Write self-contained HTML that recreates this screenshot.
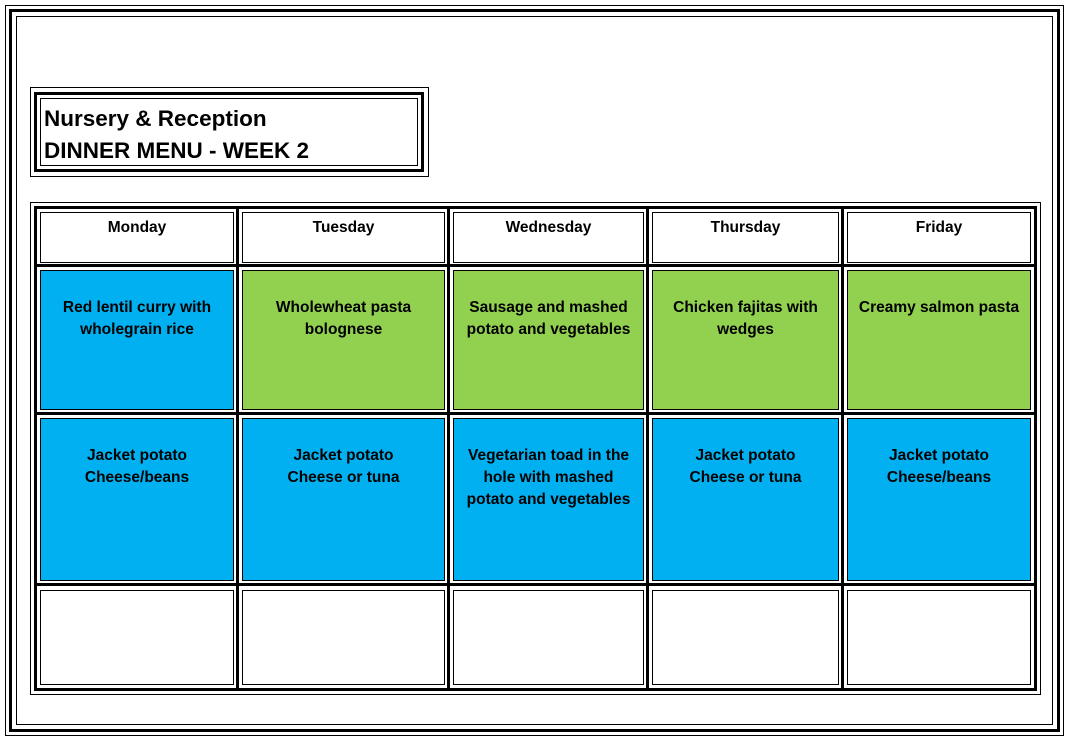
<!DOCTYPE html>
<html><head><style>
body{margin:0;width:1068px;height:741px;background:#fff;position:relative;overflow:hidden;font-family:"Liberation Sans",sans-serif}
.b{position:absolute;box-sizing:border-box}
.c{position:absolute;box-sizing:border-box;border:1px solid #000;text-align:center;font-weight:bold;font-size:15.5px;line-height:22px;color:#000}
.bl{background:#00b0f0}.gr{background:#92d050}.wh{background:#fff}
</style></head><body>
<div class="b" style="left:5px;top:5px;width:1059px;height:731px;border:1px solid #000"></div>
<div class="b" style="left:9px;top:9px;width:1051px;height:723px;border:3px solid #000"></div>
<div class="b" style="left:16px;top:16px;width:1037px;height:709px;border:1px solid #000"></div>

<div class="b" style="left:30px;top:87px;width:399px;height:90px;border:1px solid #000"></div>
<div class="b" style="left:34px;top:92px;width:390px;height:80px;border:3px solid #000"></div>
<div class="b" style="left:40px;top:98px;width:378px;height:68px;border:1px solid #000;padding:4px 0 0 3px;font-weight:bold;font-size:22.5px;line-height:32px">Nursery &amp; Reception<br>DINNER MENU - WEEK 2</div>

<div class="b" style="left:30px;top:202px;width:1011px;height:493px;border:1px solid #000"></div>
<div class="b" style="left:34px;top:206px;width:1003px;height:485px;border:3px solid #000"></div>
<div class="b" style="left:236px;top:206px;width:3px;height:485px;background:#000"></div>
<div class="b" style="left:447px;top:206px;width:3px;height:485px;background:#000"></div>
<div class="b" style="left:646px;top:206px;width:3px;height:485px;background:#000"></div>
<div class="b" style="left:841px;top:206px;width:3px;height:485px;background:#000"></div>
<div class="b" style="left:34px;top:264px;width:1003px;height:3px;background:#000"></div>
<div class="b" style="left:34px;top:412px;width:1003px;height:3px;background:#000"></div>
<div class="b" style="left:34px;top:583px;width:1003px;height:3px;background:#000"></div>

<div class="c wh" style="left:40px;top:212px;width:194px;height:51px;padding-top:4px">Monday</div>
<div class="c wh" style="left:242px;top:212px;width:203px;height:51px;padding-top:4px">Tuesday</div>
<div class="c wh" style="left:453px;top:212px;width:191px;height:51px;padding-top:4px">Wednesday</div>
<div class="c wh" style="left:652px;top:212px;width:187px;height:51px;padding-top:4px">Thursday</div>
<div class="c wh" style="left:847px;top:212px;width:184px;height:51px;padding-top:4px">Friday</div>

<div class="c bl" style="left:40px;top:270px;width:194px;height:140px;padding-top:26px">Red lentil curry with<br>wholegrain rice</div>
<div class="c gr" style="left:242px;top:270px;width:203px;height:140px;padding-top:26px">Wholewheat pasta<br>bolognese</div>
<div class="c gr" style="left:453px;top:270px;width:191px;height:140px;padding-top:26px">Sausage and mashed<br>potato and vegetables</div>
<div class="c gr" style="left:652px;top:270px;width:187px;height:140px;padding-top:26px">Chicken fajitas with<br>wedges</div>
<div class="c gr" style="left:847px;top:270px;width:184px;height:140px;padding-top:26px">Creamy salmon pasta</div>

<div class="c bl" style="left:40px;top:418px;width:194px;height:163px;padding-top:26px">Jacket potato<br>Cheese/beans</div>
<div class="c bl" style="left:242px;top:418px;width:203px;height:163px;padding-top:26px">Jacket potato<br>Cheese or tuna</div>
<div class="c bl" style="left:453px;top:418px;width:191px;height:163px;padding-top:26px">Vegetarian toad in the<br>hole with mashed<br>potato and vegetables</div>
<div class="c bl" style="left:652px;top:418px;width:187px;height:163px;padding-top:26px">Jacket potato<br>Cheese or tuna</div>
<div class="c bl" style="left:847px;top:418px;width:184px;height:163px;padding-top:26px">Jacket potato<br>Cheese/beans</div>

<div class="c wh" style="left:40px;top:590px;width:194px;height:95px"></div>
<div class="c wh" style="left:242px;top:590px;width:203px;height:95px"></div>
<div class="c wh" style="left:453px;top:590px;width:191px;height:95px"></div>
<div class="c wh" style="left:652px;top:590px;width:187px;height:95px"></div>
<div class="c wh" style="left:847px;top:590px;width:184px;height:95px"></div>
</body></html>
